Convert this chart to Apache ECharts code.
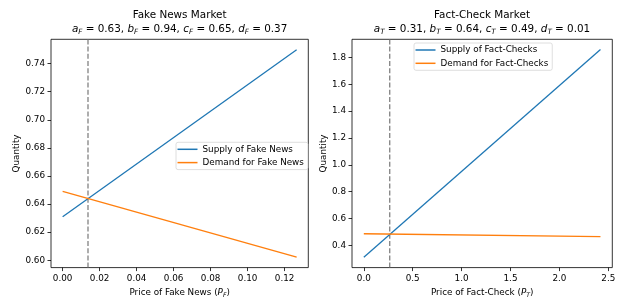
<!DOCTYPE html>
<html>
<head>
<meta charset="utf-8">
<script src="https://cdn.jsdelivr.net/npm/echarts@6/dist/echarts.min.js"></script>
<style>
html,body{margin:0;padding:0;background:#fff;}
#chart{width:627px;height:303px;}
</style>
</head>
<body>
<div id="chart"></div>
<script>
// ---- Data ----
const fakePrice = [0, 0.1265];
const fakeSupply = [0.631, 0.7499];
const fakeDemand = [0.649, 0.6022];
const fakeEqPrice = 0.0137;
const fakeXTicks = [0, 0.02, 0.04, 0.06, 0.08, 0.10, 0.12];
const fakeYTicks = [0.60, 0.62, 0.64, 0.66, 0.68, 0.70, 0.72, 0.74];

const factPrice = [0, 2.42];
const factSupply = [0.31, 1.859];
const factDemand = [0.486, 0.465];
const factEqPrice = 0.265;
const factXTicks = [0, 0.5, 1.0, 1.5, 2.0, 2.5];
const factYTicks = [0.4, 0.6, 0.8, 1.0, 1.2, 1.4, 1.6, 1.8];

const fakeParams = [['a', '0.63'], ['b', '0.94'], ['c', '0.65'], ['d', '0.37']];
const factParams = [['a', '0.31'], ['b', '0.64'], ['c', '0.49'], ['d', '0.01']];

// axis ranges
const fakeXRange = [-0.0063, 0.1328];
const fakeYRange = [0.5948, 0.7573];
const factXRange = [-0.121, 2.541];
const factYRange = [0.2335, 1.9355];

// ---- Styling ----
const FONT = 'DejaVu Sans';
const BLUE = '#1f77b4';
const ORANGE = '#ff7f0e';
const FS = 8.8;
const TFS = 10.4;

function pairs(xs, ys) { return xs.map((x, i) => [x, ys[i]]); }

function titleText(name, params, sub) {
  const parts = params.map(([v, n]) => `{i|${v}}{s|${sub}}{n| = ${n}}`);
  return `{h|${name}}\n` + parts.join('{n|, }');
}
const titleRich = {
  h: { fontFamily: FONT, fontSize: TFS, fontWeight: 'normal', lineHeight: 14, color: '#000' },
  n: { fontFamily: FONT, fontSize: TFS, fontWeight: 'normal', lineHeight: 14, color: '#000' },
  i: { fontFamily: FONT, fontSize: TFS, fontWeight: 'normal', fontStyle: 'italic', lineHeight: 14, color: '#000' },
  s: { fontFamily: FONT, fontSize: 7.2, fontWeight: 'normal', fontStyle: 'italic', lineHeight: 8, verticalAlign: 'bottom', color: '#000' }
};
const nameRich = {
  t: { fontFamily: FONT, fontSize: FS, lineHeight: 11, color: '#000' },
  i: { fontFamily: FONT, fontSize: FS, fontStyle: 'italic', lineHeight: 11, color: '#000' },
  s: { fontFamily: FONT, fontSize: 6.1, fontStyle: 'italic', lineHeight: 6, verticalAlign: 'bottom', color: '#000' }
};

function xAxis(grid, range, ticks, digits, name) {
  return {
    type: 'value', gridIndex: grid, min: range[0], max: range[1],
    axisLine: { show: false, onZero: false },
    splitLine: { show: false },
    axisTick: { show: true, inside: false, length: 3.5, customValues: ticks,
      lineStyle: { color: '#000', width: 0.8 } },
    axisLabel: { show: true, customValues: ticks, margin: 6.5,
      formatter: v => Number(v).toFixed(digits),
      fontFamily: FONT, fontSize: FS, color: '#000' },
    name: name, nameLocation: 'middle', nameGap: 17,
    nameTextStyle: { rich: nameRich }
  };
}
function yAxis(grid, range, ticks, digits, gap) {
  return {
    type: 'value', gridIndex: grid, min: range[0], max: range[1],
    axisLine: { show: false, onZero: false },
    splitLine: { show: false },
    axisTick: { show: true, inside: false, length: 3.5, customValues: ticks,
      lineStyle: { color: '#000', width: 0.8 } },
    axisLabel: { show: true, customValues: ticks, margin: 6,
      formatter: v => Number(v).toFixed(digits),
      fontFamily: FONT, fontSize: FS, color: '#000' },
    name: 'Quantity', nameLocation: 'middle', nameGap: gap, nameRotate: 90,
    nameTextStyle: { fontFamily: FONT, fontSize: FS, color: '#000' }
  };
}
function lineSeries(name, idx, data, color) {
  return {
    name: name, type: 'line', xAxisIndex: idx, yAxisIndex: idx,
    data: data, showSymbol: false, symbol: 'none',
    lineStyle: { color: color, width: 1.3 }, itemStyle: { color: color },
    animation: false, silent: true
  };
}
function eqLine(idx, eq, yRange) {
  return {
    name: 'eq' + idx, type: 'line', xAxisIndex: idx, yAxisIndex: idx,
    data: [[eq, yRange[0]], [eq, yRange[1]]], showSymbol: false, symbol: 'none',
    lineStyle: { color: '#777', width: 1.2, type: [5, 2.2] },
    animation: false, silent: true, z: 1
  };
}
function legend(names, left, top) {
  return {
    data: names, orient: 'vertical', left: left, top: top,
    icon: 'rect', itemWidth: 20, itemHeight: 1.5, itemGap: 3.3,
    padding: [2, 4, 2, 1.5],
    borderColor: '#d5d5d5', borderWidth: 0.8, borderRadius: 2,
    backgroundColor: '#fff',
    textStyle: { fontFamily: FONT, fontSize: FS, color: '#000', lineHeight: 10 },
    selectedMode: false
  };
}

const chart = echarts.init(document.getElementById('chart'), null, { renderer: 'canvas' });
chart.setOption({
  animation: false,
  backgroundColor: '#fff',
  title: [
    { text: titleText('Fake News Market', fakeParams, 'F'), left: 179.6, top: 8, textAlign: 'center',
      padding: 0, textStyle: { fontWeight: 'normal', rich: titleRich } },
    { text: titleText('Fact-Check Market', factParams, 'T'), left: 482, top: 8, textAlign: 'center',
      padding: 0, textStyle: { fontWeight: 'normal', rich: titleRich } }
  ],
  grid: [
    { left: 51, right: 318.7, top: 39.3, bottom: 29.7, show: true, borderColor: '#000', borderWidth: 0.8, containLabel: false },
    { left: 352, right: 14.7, top: 39.3, bottom: 29.7, show: true, borderColor: '#000', borderWidth: 0.8, containLabel: false }
  ],
  xAxis: [
    xAxis(0, fakeXRange, fakeXTicks, 2, '{t|Price of Fake News (}{i|P}{s|F}{t|)}'),
    xAxis(1, factXRange, factXTicks, 1, '{t|Price of Fact-Check (}{i|P}{s|T}{t|)}')
  ],
  yAxis: [
    yAxis(0, fakeYRange, fakeYTicks, 2, 28.5),
    yAxis(1, factYRange, factYTicks, 1, 23.5)
  ],
  legend: [
    legend(['Supply of Fake News', 'Demand for Fake News'], 176, 142.3),
    legend(['Supply of Fact-Checks', 'Demand for Fact-Checks'], 414, 43)
  ],
  series: [
    eqLine(0, fakeEqPrice, fakeYRange),
    lineSeries('Supply of Fake News', 0, pairs(fakePrice, fakeSupply), BLUE),
    lineSeries('Demand for Fake News', 0, pairs(fakePrice, fakeDemand), ORANGE),
    eqLine(1, factEqPrice, factYRange),
    lineSeries('Supply of Fact-Checks', 1, pairs(factPrice, factSupply), BLUE),
    lineSeries('Demand for Fact-Checks', 1, pairs(factPrice, factDemand), ORANGE)
  ]
});
</script>
</body>
</html>
